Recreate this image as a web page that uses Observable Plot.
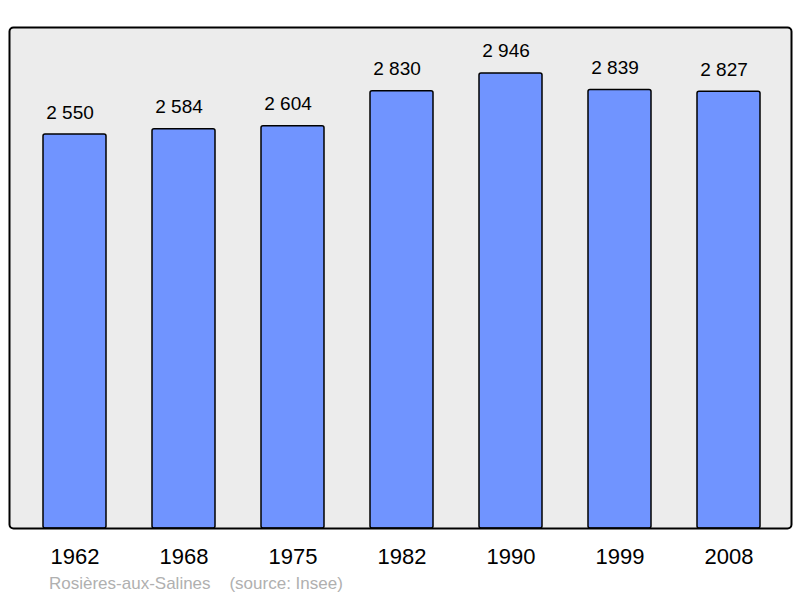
<!DOCTYPE html>
<html>
<head>
<meta charset="utf-8">
<script src="https://cdn.jsdelivr.net/npm/d3@7"></script>
<script src="https://cdn.jsdelivr.net/npm/@observablehq/plot@0.6"></script>
<style>
  html, body { margin: 0; padding: 0; background: #fff; }
  #wrap { position: relative; width: 800px; height: 598px; }
  #caption { position: absolute; left: 49px; top: 574px; font-family: "Liberation Sans", Arial, sans-serif; font-size: 17px; line-height: 20px; color: #b0b0b0; white-space: pre; }
</style>
</head>
<body>
<div id="wrap">
  <div id="chart"></div>
  <div id="caption">Rosières-aux-Salines    (source: Insee)</div>
</div>
<script>
const years = ["1962", "1968", "1975", "1982", "1990", "1999", "2008"];
const population = [2550, 2584, 2604, 2830, 2946, 2839, 2827];
const valueLabels = ["2 550", "2 584", "2 604", "2 830", "2 946", "2 839", "2 827"];

const data = years.map((y, i) => ({year: y, pop: population[i], label: valueLabels[i]}));

const chart = Plot.plot({
  width: 800,
  height: 570,
  marginLeft: 9,
  marginRight: 9,
  marginTop: 27,
  marginBottom: 42,
  style: {fontFamily: "'Liberation Sans', Arial, sans-serif", background: "transparent"},
  x: {domain: years, range: [12, 791], paddingInner: 0.425, paddingOuter: 0.26, label: null},
  y: {domain: [0, 3243], axis: null},
  marks: [
    Plot.frame({fill: "#ececec", stroke: "none"}),
    Plot.barY(data, {x: "year", y: "pop", fill: "#7094ff", stroke: "#000", strokeWidth: 1.5, rx: 2}),
    Plot.text(data, {x: "year", y: "pop", text: "label", dy: -22, dx: -5, fontSize: 19, fill: "#000"}),
    Plot.axisX({tickSize: 0, tickPadding: 20, fontSize: 22, fill: "#000", label: null}),
    Plot.frame({stroke: "#000", strokeWidth: 2, rx: 4, fill: "none"})
  ]
});
document.getElementById("chart").appendChild(chart);
</script>
</body>
</html>
